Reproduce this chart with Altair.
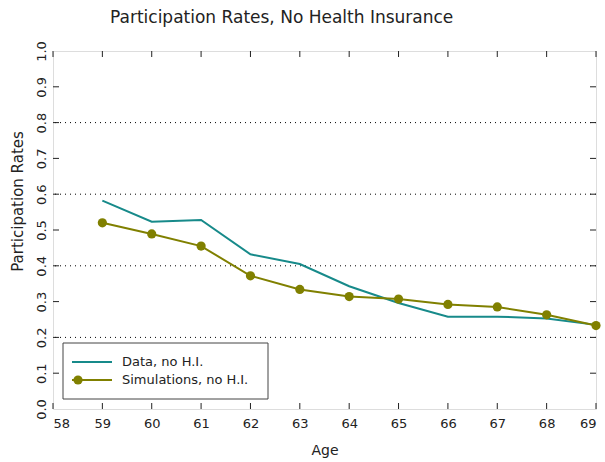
import altair as alt
import pandas as pd

# Participation rates by age for people without health insurance
ages = [59, 60, 61, 62, 63, 64, 65, 66, 67, 68, 69]
data_rate = [0.582, 0.523, 0.528, 0.432, 0.405, 0.343, 0.296, 0.258, 0.258, 0.253, 0.235]
sim_rate = [0.520, 0.489, 0.455, 0.372, 0.334, 0.314, 0.307, 0.292, 0.285, 0.263, 0.233]

x_ticks = [58, 59, 60, 61, 62, 63, 64, 65, 66, 67, 68, 69]
y_ticks = [0.0, 0.1, 0.2, 0.3, 0.4, 0.5, 0.6, 0.7, 0.8, 0.9, 1.0]
grid_vals = [0.2, 0.4, 0.6, 0.8]
minor_y = [0.1, 0.2, 0.3, 0.4, 0.5, 0.6, 0.7, 0.8, 0.9]

TEAL = "#178a8a"
OLIVE = "#808000"
FONT = "DejaVu Sans"
W, H = 543, 358

data_df = pd.DataFrame({"age": ages, "rate": data_rate})
sim_df = pd.DataFrame({"age": ages, "rate": sim_rate})
grid_df = pd.DataFrame({"rate": grid_vals})
xt_df = pd.DataFrame({"age": x_ticks})
yt_df = pd.DataFrame({"rate": minor_y})
one_row = pd.DataFrame({"k": [0]})

x_scale = alt.Scale(domain=[58, 69], nice=False, zero=False)
y_scale = alt.Scale(domain=[0, 1], nice=False)

x_axis = alt.Axis(values=x_ticks, format="d", ticks=False, domain=False, grid=False,
                  labelFont=FONT, labelFontSize=13, labelColor="#222", labelPadding=8,
                  title="Age", titleFont=FONT, titleFontSize=14, titleFontWeight="normal",
                  titleColor="#222", titlePadding=13)
y_axis = alt.Axis(values=y_ticks, format=".1f", ticks=False, domain=False, grid=False,
                  labelFont=FONT, labelFontSize=13, labelColor="#222", labelAngle=270,
                  labelAlign="center", labelBaseline="bottom", labelPadding=5,
                  title="Participation Rates", titleFont=FONT, titleFontSize=15,
                  titleFontWeight="normal", titleColor="#222", titleX=-28, titleY=150)

X = alt.X("age:Q", scale=x_scale, axis=x_axis)
Y = alt.Y("rate:Q", scale=y_scale, axis=y_axis)

grid = alt.Chart(grid_df).mark_rule(color="black", strokeWidth=1, strokeDash=[1, 4]).encode(y=Y)

data_line = alt.Chart(data_df).mark_line(color=TEAL, strokeWidth=2).encode(x=X, y=Y)
sim_line = alt.Chart(sim_df).mark_line(color=OLIVE, strokeWidth=2).encode(x=X, y=Y)
sim_pts = alt.Chart(sim_df).mark_circle(color=OLIVE, size=85, opacity=1).encode(x=X, y=Y)

# inward tick marks on all four sides
tick_style = dict(color="#222", strokeWidth=1)
bottom_ticks = alt.Chart(xt_df).mark_rule(**tick_style).encode(x=X, y=alt.value(H), y2=alt.value(H - 6))
top_ticks = alt.Chart(xt_df).mark_rule(**tick_style).encode(x=X, y=alt.value(0), y2=alt.value(6))
left_ticks = alt.Chart(yt_df).mark_rule(**tick_style).encode(y=Y, x=alt.value(0), x2=alt.value(6))
right_ticks = alt.Chart(yt_df).mark_rule(**tick_style).encode(y=Y, x=alt.value(W), x2=alt.value(W - 6))

# legend box
legend_box = alt.Chart(one_row).mark_rect(fill="white", stroke="#444", strokeWidth=1).encode(
    x=alt.value(10), x2=alt.value(215), y=alt.value(292), y2=alt.value(348))
leg_data_line = alt.Chart(one_row).mark_rule(color=TEAL, strokeWidth=2).encode(
    x=alt.value(19), x2=alt.value(59), y=alt.value(311))
leg_sim_line = alt.Chart(one_row).mark_rule(color=OLIVE, strokeWidth=2).encode(
    x=alt.value(19), x2=alt.value(59), y=alt.value(329))
leg_sim_dot = alt.Chart(one_row).mark_circle(color=OLIVE, size=85, opacity=1).encode(
    x=alt.value(25), y=alt.value(329))
text_style = dict(font=FONT, fontSize=13, color="#222", align="left", baseline="middle")
leg_data_txt = alt.Chart(one_row).mark_text(**text_style).encode(
    x=alt.value(69), y=alt.value(311), text=alt.value("Data, no H.I."))
leg_sim_txt = alt.Chart(one_row).mark_text(**text_style).encode(
    x=alt.value(69), y=alt.value(329), text=alt.value("Simulations, no H.I."))

chart = alt.layer(
    grid, data_line, sim_line, sim_pts,
    bottom_ticks, top_ticks, left_ticks, right_ticks,
    legend_box, leg_data_line, leg_sim_line, leg_sim_dot, leg_data_txt, leg_sim_txt,
).properties(
    width=W, height=H,
    title=alt.TitleParams("Participation Rates, No Health Insurance", anchor="start", frame="group",
                          dx=57, font=FONT, fontSize=17, fontWeight="normal", color="#222",
                          offset=14),
    autosize=alt.AutoSizeParams(type="none"),
    padding={"left": 53, "top": 51, "right": 9, "bottom": 53},
).configure_view(
    stroke="black", strokeWidth=2
).configure(background="white")

chart.save("out.html", embed_options={"renderer": "svg", "actions": False})
